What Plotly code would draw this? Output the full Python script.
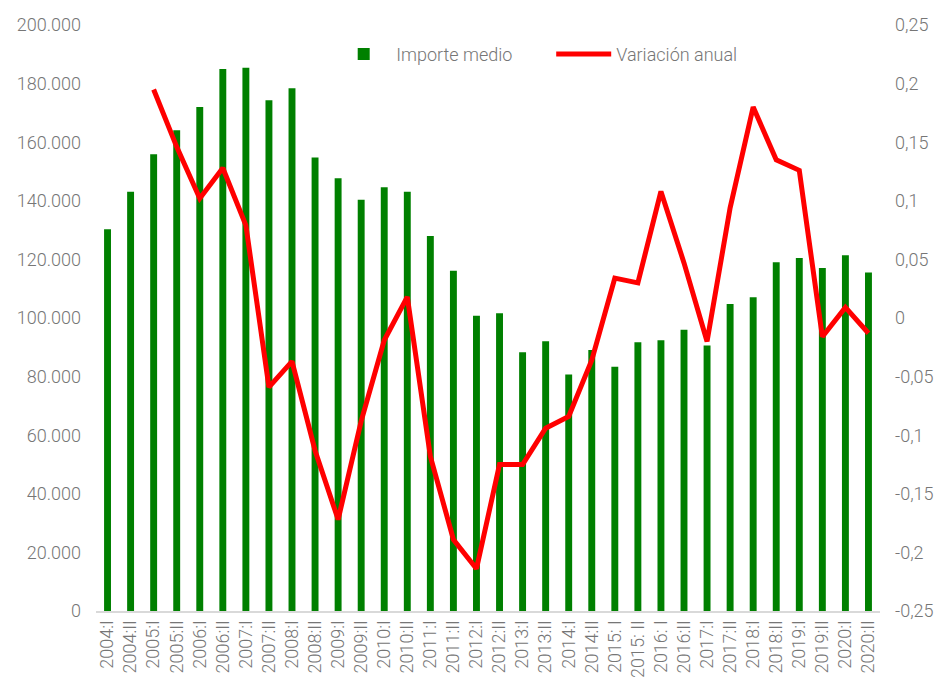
import plotly.graph_objects as go

categories = ["2004:I", "2004:II", "2005:I", "2005:II", "2006:I", "2006:II", "2007:I", "2007:II",
              "2008:I", "2008:II", "2009:I", "2009:II", "2010:I", "2010:II", "2011:I", "2011:II",
              "2012:I", "2012:II", "2013:I", "2013:II", "2014:I", "2014:II", "2015: I", "2015: II",
              "2016: I", "2016:II", "2017:I", "2017:II", "2018:I", "2018:II", "2019:I", "2019:II",
              "2020:I", "2020:II"]

importe_medio = [130300, 143100, 155900, 164100, 172000, 185000, 185400, 174300,
                 178400, 154800, 147700, 140400, 144600, 143100, 128000, 116100,
                 100800, 101600, 88300, 92100, 80700, 89100, 83400, 91700,
                 92400, 96000, 90600, 104800, 107100, 119000, 120500, 117100,
                 121400, 115500]

variacion_anual = [None, None, 0.195, 0.146, 0.102, 0.128, 0.079, -0.059,
                   -0.037, -0.113, -0.172, -0.088, -0.019, 0.018, -0.118, -0.189,
                   -0.214, -0.125, -0.125, -0.094, -0.084, -0.036, 0.034, 0.030,
                   0.108, 0.047, -0.020, 0.094, 0.180, 0.135, 0.126, -0.016,
                   0.009, -0.013]

left_tickvals = [0, 20000, 40000, 60000, 80000, 100000, 120000, 140000, 160000, 180000, 200000]
left_ticktext = ["0", "20.000", "40.000", "60.000", "80.000", "100.000", "120.000", "140.000",
                 "160.000", "180.000", "200.000"]
right_tickvals = [-0.25, -0.2, -0.15, -0.1, -0.05, 0, 0.05, 0.1, 0.15, 0.2, 0.25]
right_ticktext = ["-0,25", "-0,2", "-0,15", "-0,1", "-0,05", "0", "0,05", "0,1", "0,15", "0,2", "0,25"]

font_color = "#767676"
tick_font = dict(family="Roboto", size=18, color=font_color, weight=300)

fig = go.Figure()
fig.add_trace(go.Bar(
    x=categories, y=importe_medio, name="Importe medio",
    marker=dict(color="#008000", line=dict(width=0)),
    yaxis="y",
))
fig.add_trace(go.Scatter(
    x=categories, y=variacion_anual, name="Variación anual",
    mode="lines", line=dict(color="#ff0000", width=5),
    yaxis="y2", connectgaps=False,
))

fig.update_layout(
    width=942, height=677,
    margin=dict(l=88, r=70, t=17, b=74, autoexpand=False),
    paper_bgcolor="white", plot_bgcolor="white",
    font=tick_font,
    bargap=0.7,
    showlegend=True,
    legend=dict(orientation="h", x=0.30, y=0.95, xanchor="left", yanchor="middle",
                font=tick_font, itemwidth=55, entrywidth=150, entrywidthmode="pixels",
                bgcolor="rgba(0,0,0,0)"),
    xaxis=dict(type="category", tickangle=-90, showgrid=False, showline=True, automargin=False,
               linecolor="#d9d9d9", linewidth=2, ticks="", tickfont=tick_font),
    yaxis=dict(range=[0, 200000], tickvals=left_tickvals, ticktext=left_ticktext, automargin=False,
               showgrid=False, zeroline=False, showline=False, ticks="",
               ticklabelstandoff=14, tickfont=tick_font),
    yaxis2=dict(range=[-0.25, 0.25], tickvals=right_tickvals, ticktext=right_ticktext,
                overlaying="y", side="right", showgrid=False, zeroline=False, automargin=False,
                showline=False, ticks="", ticklabelstandoff=14, tickfont=tick_font),
)

fig.write_html("out.html")
